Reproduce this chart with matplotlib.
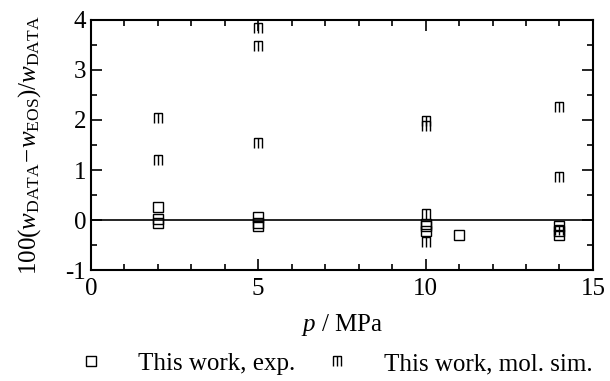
import numpy as np
import matplotlib
matplotlib.use("Agg")
import matplotlib.pyplot as plt
from matplotlib.path import Path
from matplotlib.ticker import MultipleLocator

plt.rcParams['font.family'] = 'Liberation Serif'
plt.rcParams['mathtext.fontset'] = 'custom'
plt.rcParams['mathtext.rm'] = 'Liberation Serif'
plt.rcParams['mathtext.it'] = 'Liberation Serif:italic'
plt.rcParams['axes.unicode_minus'] = False

# experimental deviations
p_exp = [2, 2, 2, 5, 5, 5, 10, 10, 10, 11, 14, 14, 14]
dev_exp = [0.27, 0.03, -0.05, 0.07, -0.05, -0.12, -0.07, -0.12, -0.22, -0.30, -0.12, -0.22, -0.30]

# molecular simulation deviations
p_sim = [2, 2, 5, 5, 5, 10, 10, 10, 10, 14, 14, 14]
dev_sim = [2.04, 1.19, 3.83, 3.47, 1.53, 1.98, 1.87, 0.13, -0.43, 2.25, 0.86, -0.20]

# "m"-shaped marker: top bar with three legs
m_marker = Path(
    [(-0.8, 1), (0.8, 1), (-0.8, 1), (-0.8, -1), (0, 1), (0, -1), (0.8, 1), (0.8, -1)],
    [Path.MOVETO, Path.LINETO, Path.MOVETO, Path.LINETO,
     Path.MOVETO, Path.LINETO, Path.MOVETO, Path.LINETO],
)

fig = plt.figure(figsize=(6.1, 3.81), dpi=100)
ax = fig.add_axes([0.149, 0.291, 0.823, 0.657])

ax.plot(p_exp, dev_exp, ls='none', marker='s', ms=6.5, mfc='none', mec='black',
        mew=1.0, label='This work, exp.')
ax.plot(p_sim, dev_sim, ls='none', marker=m_marker, ms=6.5, mfc='none', mec='black',
        mew=1.0, label='This work, mol. sim.')
ax.axhline(0, color='black', lw=1.2)

ax.set_xlim(0, 15)
ax.set_ylim(-1, 4)
ax.xaxis.set_major_locator(MultipleLocator(5))
ax.xaxis.set_minor_locator(MultipleLocator(1))
ax.yaxis.set_major_locator(MultipleLocator(1))
ax.yaxis.set_minor_locator(MultipleLocator(0.5))
ax.tick_params(which='both', direction='in', top=True, right=True, width=1.2,
               labelsize=18)
ax.tick_params(which='major', length=8)
ax.tick_params(which='minor', length=4)
ax.tick_params(axis='x', pad=6)
for s in ax.spines.values():
    s.set_linewidth(1.5)

ax.set_xlabel(r'$p$ / MPa', fontsize=18, labelpad=8)
ax.set_ylabel(r'$100(w_{\rm DATA}\!-\!w_{\rm EOS})/w_{\rm DATA}$', fontsize=18, labelpad=16)

fig.legend(loc='center', bbox_to_anchor=(0.55, 0.045), ncol=2, frameon=False,
           fontsize=18, handlelength=1.0, handletextpad=1.38, columnspacing=1.2,
           numpoints=1)

fig.savefig('out.png', dpi=100)
